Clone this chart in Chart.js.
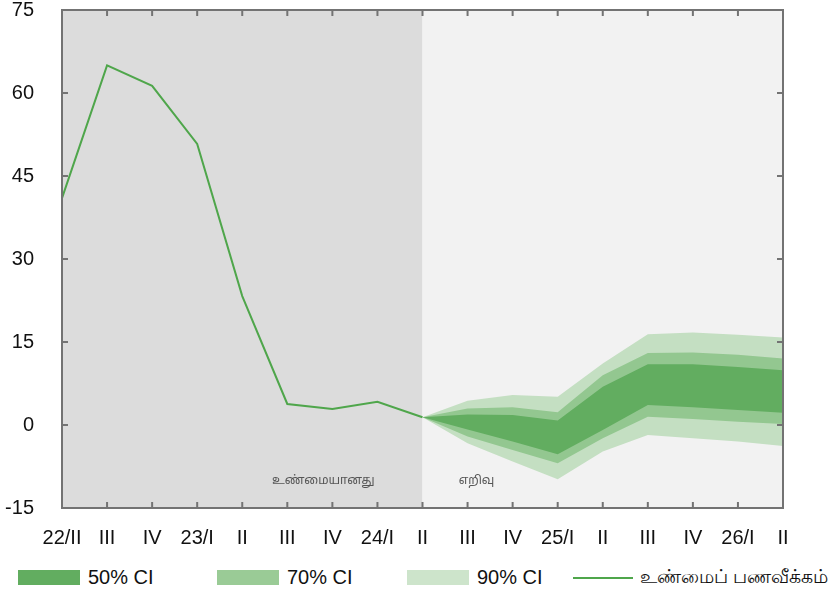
<!DOCTYPE html>
<html>
<head>
<meta charset="utf-8">
<script src="https://cdn.jsdelivr.net/npm/chart.js@4"></script>
<style>
    body { margin: 0; background: #fff; font-family: "Liberation Sans", Arial, sans-serif; overflow: hidden; }
    #wrap { position: relative; width: 836px; height: 555px; }
    .legend { position: relative; height: 44px; width: 836px; overflow: hidden; }
    .legend-item { position: absolute; top: 11px; font-size: 20px; color: #111; display: flex; align-items: center; white-space: nowrap; }
    .legend-box { width: 62px; height: 15px; margin-right: 8px; }
    .legend-line { width: 60px; height: 0; border-top: 2px solid #4fa64b; margin-right: 7px; }
</style>
</head>
<body>
<div id="wrap"><canvas id="fanChart"></canvas></div>
<div class="legend">
    <div class="legend-item" style="left:18px"><span class="legend-box" style="background:#62ad60"></span>50% CI</div>
    <div class="legend-item" style="left:217px"><span class="legend-box" style="background:#9acb96"></span>70% CI</div>
    <div class="legend-item" style="left:407px"><span class="legend-box" style="background:#cde4cb"></span>90% CI</div>
    <div class="legend-item" style="left:573px"><span class="legend-line"></span><span style="font-size:19px">உண்மைப் பணவீக்கம்</span></div>
</div>
<script>
// Données du graphique
const quarters = ['22/II', 'III', 'IV', '23/I', 'II', 'III', 'IV', '24/I', 'II',
    'III', 'IV', '25/I', 'II', 'III', 'IV', '26/I', 'II'];
const yTicks = [-15, 0, 15, 30, 45, 60, 75];

const actual = [41, 65, 61.3, 50.8, 23.3, 3.8, 2.9, 4.2, 1.4,
    null, null, null, null, null, null, null, null];

// bandes de prévision (indice 8 = point de départ)
const ci50Upper = [null, null, null, null, null, null, null, null, 1.4, 1.9, 1.8, 0.8, 6.9, 11.0, 11.0, 10.5, 9.9];
const ci50Lower = [null, null, null, null, null, null, null, null, 1.4, -0.8, -3.0, -5.3, -0.9, 3.6, 3.2, 2.7, 2.2];
const ci70Upper = [null, null, null, null, null, null, null, null, 1.4, 3.0, 3.2, 2.3, 9.0, 13.0, 13.1, 12.7, 12.0];
const ci70Lower = [null, null, null, null, null, null, null, null, 1.4, -2.1, -4.5, -6.9, -2.4, 1.5, 1.1, 0.6, 0.2];
const ci90Upper = [null, null, null, null, null, null, null, null, 1.4, 4.4, 5.4, 5.1, 11.1, 16.4, 16.7, 16.3, 15.8];
const ci90Lower = [null, null, null, null, null, null, null, null, 1.4, -3.3, -6.6, -9.8, -4.8, -1.8, -2.4, -3.0, -3.8];

const splitIndex = 8;
const actualLabel = 'உண்மையானது';
const forecastLabel = 'எறிவு';

// Fond gris + étiquettes des zones
const backgroundPlugin = {
    id: 'zones',
    beforeDatasetsDraw(chart) {
        const { ctx, chartArea: a, scales: { x } } = chart;
        const split = x.getPixelForValue(splitIndex);
        ctx.save();
        ctx.fillStyle = '#dcdcdc';
        ctx.fillRect(a.left, a.top, split - a.left, a.bottom - a.top);
        ctx.fillStyle = '#f2f2f2';
        ctx.fillRect(split, a.top, a.right - split, a.bottom - a.top);
        ctx.fillStyle = '#555';
        ctx.font = '12px "Noto Sans Tamil", "Noto Serif Tamil", "Noto Sans", sans-serif';
        ctx.textAlign = 'center';
        ctx.textBaseline = 'middle';
        ctx.fillText(actualLabel, x.getPixelForValue(5.8), a.bottom - 26);
        ctx.fillText(forecastLabel, x.getPixelForValue(9.2), a.bottom - 26);
        ctx.restore();
    },
    afterDatasetsDraw(chart) {
        const { ctx, chartArea: a, scales: { x, y } } = chart;
        ctx.save();
        ctx.strokeStyle = '#737373';
        ctx.lineWidth = 2;
        ctx.strokeRect(a.left, a.top, a.right - a.left, a.bottom - a.top);
        ctx.beginPath();
        x.ticks.forEach((t, i) => {
            const px = x.getPixelForTick(i);
            ctx.moveTo(px, a.bottom); ctx.lineTo(px, a.bottom - 6);
            ctx.moveTo(px, a.top); ctx.lineTo(px, a.top + 6);
        });
        y.ticks.forEach((t, i) => {
            const py = y.getPixelForTick(i);
            ctx.moveTo(a.left, py); ctx.lineTo(a.left + 6, py);
            ctx.moveTo(a.right, py); ctx.lineTo(a.right - 6, py);
        });
        ctx.stroke();
        ctx.restore();
    }
};

function band(data, color, fillTarget) {
    return {
        data: data,
        borderWidth: 0,
        pointRadius: 0,
        backgroundColor: color,
        borderColor: color,
        fill: fillTarget === undefined ? false : fillTarget,
        tension: 0
    };
}

const canvas = document.getElementById('fanChart');
canvas.width = 836;
canvas.height = 555;

new Chart(canvas.getContext('2d'), {
    type: 'line',
    data: {
        labels: quarters,
        datasets: [
            {
                data: actual,
                borderColor: '#4fa64b',
                borderWidth: 2,
                pointRadius: 0,
                fill: false,
                tension: 0
            },
            band(ci50Upper, '#62ad60', 2),
            band(ci50Lower, '#62ad60'),
            band(ci70Upper, '#93c790', 4),
            band(ci70Lower, '#93c790'),
            band(ci90Upper, '#c4dfc2', 6),
            band(ci90Lower, '#c4dfc2')
        ]
    },
    options: {
        responsive: false,
        animation: false,
        layout: { padding: { top: 10, right: 53, left: 0, bottom: 0 } },
        plugins: {
            legend: { display: false },
            tooltip: { enabled: false }
        },
        scales: {
            x: {
                offset: false,
                grid: { display: false },
                border: { display: false },
                ticks: {
                    autoSkip: false,
                    maxRotation: 0,
                    padding: 10,
                    color: '#111',
                    font: { family: '"Liberation Sans", Arial, sans-serif', size: 20 }
                },
                afterFit: s => { s.height = 47; }
            },
            y: {
                min: -15,
                max: 75,
                afterBuildTicks: s => { s.ticks = yTicks.map(v => ({ value: v })); },
                grid: { display: false },
                border: { display: false },
                ticks: {
                    padding: 20,
                    color: '#111',
                    font: { family: '"Liberation Sans", Arial, sans-serif', size: 20 }
                },
                afterFit: s => {
                    s.width = 62;
                    s.paddingTop = 0;
                    s.paddingBottom = 0;
                }
            }
        }
    },
    plugins: [backgroundPlugin]
});
</script>
</body>
</html>
